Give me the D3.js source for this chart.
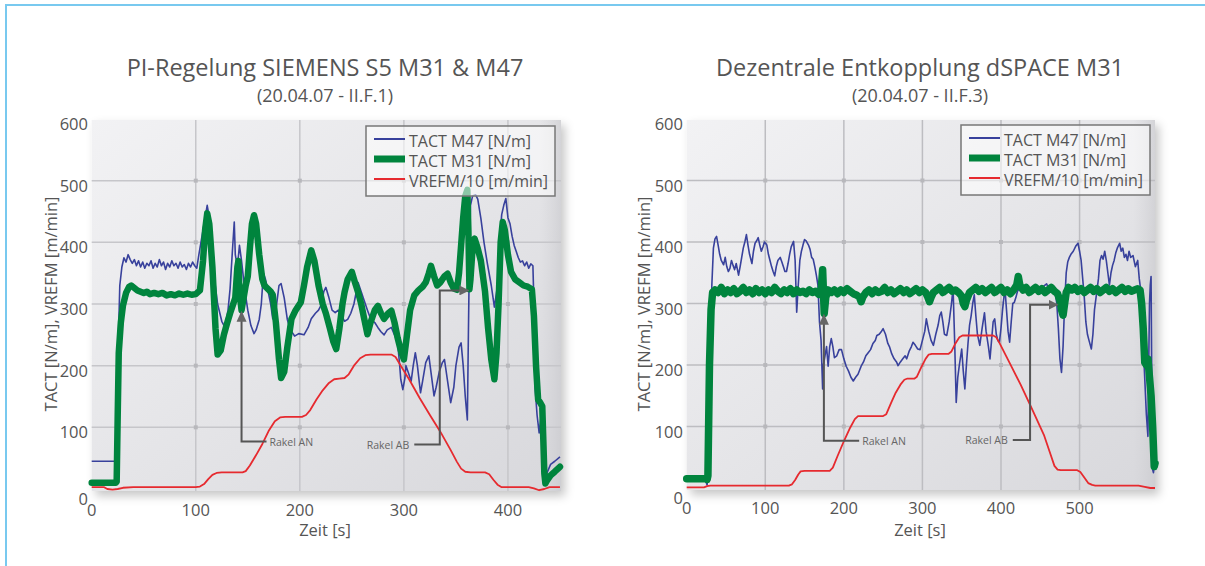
<!DOCTYPE html>
<html>
<head>
<meta charset="utf-8">
<script src="https://cdn.jsdelivr.net/npm/d3@7/dist/d3.min.js"></script>
<style>
  body { margin: 0; background: #fff; }
  text { font-family: "Open Sans", sans-serif; fill: #555; }
</style>
</head>
<body>
<div id="canvas"></div>
<script>

// ---- data (time [s], value) ----
var yTicks = [0, 100, 200, 300, 400, 500, 600];
var leftXTicks = [0, 100, 200, 300, 400];
var rightXTicks = [0, 100, 200, 300, 400, 500];
var legendLabels = ['TACT M47 [N/m]', 'TACT M31 [N/m]', 'VREFM/10 [m/min]'];

var leftM47 = [[0,45],[22,45],[23,44],[24,40],[25,200],[27,330],[29,360],[31,375],[33,368],[35,380],[37,372],[39,366],[41,372],[43,362],[45,370],[47,360],[49,368],[51,358],[53,366],[55,362],[57,370],[59,358],[61,366],[63,360],[65,372],[67,362],[69,368],[71,356],[73,366],[75,360],[77,370],[79,362],[81,366],[83,358],[85,368],[87,360],[89,364],[91,356],[93,366],[95,360],[97,368],[99,362],[101,358],[103,380],[106,410],[109,440],[111,460],[113,440],[115,390],[118,340],[121,300],[125,272],[128,262],[131,290],[133,325],[135,380],[137,433],[138,380],[140,360],[142,395],[144,370],[147,324],[150,290],[153,265],[156,252],[158,258],[161,275],[163,300],[165,350],[167,340],[169,325],[172,300],[174,276],[177,290],[180,330],[182,333],[185,310],[188,275],[191,258],[195,248],[199,252],[204,250],[208,262],[211,276],[215,285],[218,290],[221,300],[223,320],[225,327],[228,310],[231,290],[234,286],[237,290],[240,282],[243,272],[246,275],[249,285],[252,300],[256,335],[259,320],[262,305],[265,290],[268,276],[272,270],[275,262],[278,255],[281,250],[284,258],[288,262],[291,250],[294,237],[296,200],[297,178],[299,161],[301,180],[302,200],[304,190],[307,175],[309,200],[311,221],[313,200],[316,156],[318,175],[321,205],[324,216],[326,190],[329,151],[331,165],[334,190],[337,205],[339,210],[342,175],[345,140],[348,165],[350,200],[353,230],[355,237],[357,200],[359,150],[361,112],[362,250],[363,380],[364,460],[366,475],[369,477],[371,470],[374,439],[377,400],[380,368],[384,330],[387,295],[390,330],[392,400],[394,445],[396,460],[398,471],[400,440],[402,430],[404,410],[406,395],[408,385],[410,375],[412,368],[414,370],[416,362],[418,368],[420,358],[422,365],[424,362],[425,300],[426,167],[428,120],[430,91],[432,120],[433,130],[434,60],[436,20],[438,28],[441,40],[445,45],[450,52]];

var leftM31 = [[0,10],[23,10],[24,12],[25,120],[26,221],[28,270],[30,297],[33,318],[36,328],[38,330],[41,326],[44,322],[47,320],[50,318],[53,320],[56,316],[60,318],[64,316],[68,318],[72,314],[76,316],[80,314],[84,317],[88,315],[92,317],[96,315],[100,316],[104,322],[107,370],[109,420],[111,447],[113,430],[116,360],[119,260],[121,218],[124,225],[127,250],[130,268],[133,285],[136,300],[138,310],[140,360],[141,370],[142,320],[144,290],[146,310],[148,330],[150,345],[152,390],[154,430],[156,444],[158,430],[161,380],[164,340],[166,330],[169,325],[172,320],[174,315],[177,270],[180,210],[182,180],[185,190],[188,230],[192,276],[196,290],[201,303],[204,330],[207,360],[211,387],[214,370],[218,330],[222,300],[225,285],[229,260],[232,240],[235,227],[238,260],[241,300],[243,319],[246,340],[250,352],[253,335],[256,319],[259,300],[262,275],[265,251],[268,270],[272,290],[275,297],[278,285],[281,276],[285,285],[288,289],[291,270],[294,245],[297,225],[300,210],[303,250],[306,290],[310,314],[314,322],[318,328],[321,335],[324,350],[326,362],[329,345],[332,330],[335,335],[339,345],[342,349],[345,335],[348,325],[351,323],[353,350],[355,395],[357,440],[359,475],[361,485],[362,420],[363,324],[364,340],[366,390],[368,406],[371,390],[374,370],[378,320],[381,260],[384,210],[387,178],[389,220],[391,300],[393,400],[395,433],[397,420],[400,380],[403,352],[407,340],[411,335],[415,330],[419,328],[423,324],[425,280],[427,200],[429,145],[431,140],[433,134],[434,80],[435,25],[436,9],[438,15],[441,22],[445,28],[450,36]];

var leftVref = [[0,3],[12,3],[15,0],[20,-1],[25,0],[30,2],[40,3],[100,3],[104,4],[108,8],[112,16],[116,23],[120,26],[125,27],[145,27],[148,29],[152,38],[158,55],[164,73],[170,94],[176,110],[181,116],[186,117],[202,117],[206,120],[210,128],[216,145],[222,160],[228,172],[233,178],[238,179],[243,180],[247,186],[252,200],[258,212],[263,217],[268,218],[288,218],[292,214],[297,200],[305,178],[315,148],[325,120],[335,93],[345,63],[351,44],[355,33],[359,28],[364,27],[378,27],[382,24],[386,15],[390,7],[394,3],[420,3],[425,1],[430,-2],[435,0],[440,3],[450,3]];

var rightM47 = [[0,13],[20,13],[24,12],[26,5],[28,60],[30,200],[32,330],[34,390],[36,405],[38,409],[40,395],[42,380],[44,370],[47,363],[49,375],[51,360],[53,352],[55,357],[57,370],[59,362],[61,355],[63,365],[66,346],[68,360],[70,375],[72,390],[74,400],[76,412],[78,395],[80,380],[83,365],[85,385],[87,398],[89,402],[91,407],[93,395],[95,385],[97,392],[99,400],[102,395],[104,380],[106,370],[108,360],[110,352],[112,345],[114,360],[116,370],[119,375],[121,368],[123,360],[125,352],[127,352],[129,365],[131,380],[133,392],[136,401],[138,370],[140,286],[142,330],[144,370],[146,385],[148,395],[150,404],[152,402],[155,395],[157,388],[159,375],[161,372],[163,360],[165,346],[167,330],[169,270],[171,240],[173,161],[174,200],[176,215],[178,230],[180,198],[182,230],[184,243],[186,230],[188,212],[191,215],[194,225],[197,225],[200,210],[203,198],[206,190],[209,180],[212,174],[215,180],[218,185],[222,198],[225,205],[228,215],[231,220],[234,225],[237,235],[240,240],[242,248],[245,250],[248,255],[250,259],[253,250],[256,235],[258,230],[261,218],[264,210],[267,205],[269,199],[272,205],[275,210],[278,215],[280,210],[283,222],[286,230],[288,237],[291,232],[294,226],[297,225],[300,240],[303,255],[305,275],[308,255],[311,240],[314,232],[317,250],[320,265],[322,280],[324,286],[326,270],[328,250],[331,248],[334,270],[337,300],[339,325],[341,240],[343,139],[345,180],[347,200],[350,226],[352,190],[354,161],[356,200],[358,235],[360,265],[362,280],[364,300],[366,314],[368,280],[370,250],[373,232],[376,260],[379,285],[381,255],[384,230],[386,210],[388,240],[390,270],[392,275],[394,250],[396,240],[398,237],[400,260],[402,290],[405,325],[407,290],[409,255],[411,237],[413,270],[415,300],[417,302],[419,310],[421,320],[424,325],[427,318],[430,320],[432,322],[435,316],[438,325],[441,320],[445,330],[448,322],[451,318],[454,328],[458,332],[461,324],[464,330],[468,325],[471,300],[473,260],[475,210],[477,188],[479,230],[481,300],[483,350],[485,368],[487,375],[489,380],[492,385],[495,393],[498,398],[500,385],[502,370],[504,340],[506,310],[508,270],[510,250],[512,240],[515,226],[517,250],[519,290],[521,310],[524,340],[526,370],[528,378],[530,372],[532,385],[534,370],[536,350],[538,330],[540,350],[542,362],[544,370],[546,382],[548,390],[551,398],[553,385],[555,390],[557,375],[559,380],[561,370],[563,385],[565,375],[568,378],[571,360],[574,370],[576,340],[578,320],[580,260],[583,177],[585,120],[587,84],[588,200],[589,300],[590,330],[591,344],[592,150],[593,30],[594,25],[596,45]];

var rightM31 = [[0,15],[24,15],[26,14],[27,20],[29,200],[31,290],[33,318],[36,322],[40,318],[44,326],[48,316],[52,322],[56,318],[60,324],[64,316],[68,320],[72,326],[76,318],[80,322],[84,316],[88,324],[92,318],[96,322],[100,316],[104,322],[108,318],[112,326],[116,320],[120,316],[124,322],[128,318],[132,324],[136,316],[140,322],[144,318],[148,320],[152,316],[156,322],[160,318],[164,320],[168,315],[171,320],[173,355],[174,320],[175,284],[177,310],[180,322],[184,318],[188,322],[192,316],[196,322],[200,318],[204,324],[208,320],[212,316],[216,314],[220,310],[222,303],[224,310],[228,318],[232,322],[236,316],[240,322],[244,318],[248,320],[252,326],[256,318],[260,322],[264,316],[268,320],[272,324],[276,318],[280,322],[284,316],[288,320],[292,324],[296,318],[300,322],[304,318],[307,310],[309,303],[311,310],[314,318],[318,322],[322,326],[326,318],[330,322],[334,326],[338,320],[342,322],[346,318],[350,312],[352,300],[354,295],[356,305],[360,318],[364,322],[368,326],[372,320],[376,324],[380,318],[384,322],[388,326],[392,318],[396,322],[400,326],[404,318],[408,322],[412,316],[416,322],[420,330],[422,344],[424,330],[428,322],[432,326],[436,318],[440,322],[444,326],[448,320],[452,324],[456,318],[460,322],[464,326],[468,320],[472,316],[475,305],[477,290],[479,281],[481,300],[483,318],[486,326],[490,322],[494,326],[498,320],[502,324],[506,318],[510,322],[514,326],[518,320],[522,324],[526,318],[530,322],[534,326],[538,320],[542,324],[546,318],[550,322],[554,326],[558,320],[562,324],[566,320],[570,322],[574,324],[577,322],[579,300],[581,260],[583,204],[585,200],[587,210],[589,180],[591,150],[593,100],[595,35],[596,40]];

var rightVref = [[0,1],[22,1],[26,3],[30,4],[130,4],[134,6],[138,13],[142,22],[145,27],[150,28],[182,28],[186,33],[192,52],[200,76],[208,98],[214,112],[218,117],[250,117],[254,120],[260,138],[266,155],[272,168],[277,176],[281,178],[290,178],[293,181],[298,195],[304,210],[308,217],[312,218],[333,218],[337,222],[342,235],[347,245],[351,248],[390,248],[394,245],[398,236],[410,206],[425,168],[440,127],[455,85],[463,55],[468,36],[472,30],[476,29],[497,29],[501,26],[506,17],[511,8],[516,5],[520,4],[575,4],[583,2],[590,0],[596,0]];

// annotation anchor points in data units: [t, v]
var leftRakelAN = [[144,286],[144,77],[168,77]];
var leftRakelAB = [[310,72],[334.5,72],[334.5,322],[362,322]];
var rightRakelAN = [[174.6,280],[174.6,77],[219.5,77]];
var rightRakelAB = [[415,78],[437,78],[437,298],[472,298]];

// ---- drawing ----
svg = d3.select('#canvas').append('svg')
  .attr('width', 1205)
  .attr('height', 566);

var defs = svg.append('defs');

var grad = defs.append('linearGradient')
  .attr('id', 'plotbg')
  .attr('x1', 0).attr('y1', 0).attr('x2', 1).attr('y2', 1);
grad.append('stop').attr('offset', '0%').attr('stop-color', '#f2f2f4');
grad.append('stop').attr('offset', '55%').attr('stop-color', '#e4e4e7');
grad.append('stop').attr('offset', '100%').attr('stop-color', '#d8d8dc');

var edge = defs.append('linearGradient')
  .attr('id', 'edgebg')
  .attr('x1', 0).attr('y1', 0).attr('x2', 1).attr('y2', 0);
edge.append('stop').attr('offset', '0%').attr('stop-color', '#d0d0d4').attr('stop-opacity', 0);
edge.append('stop').attr('offset', '100%').attr('stop-color', '#c8c8cc').attr('stop-opacity', 1);

var shadow = defs.append('filter')
  .attr('id', 'shadow')
  .attr('x', '-5%').attr('y', '-5%').attr('width', '115%').attr('height', '115%');
shadow.append('feDropShadow')
  .attr('dx', 4).attr('dy', 5).attr('stdDeviation', 5)
  .attr('flood-color', '#000').attr('flood-opacity', 0.22);

defs.append('marker')
  .attr('id', 'arrow')
  .attr('viewBox', '0 0 10 10')
  .attr('refX', 9).attr('refY', 5)
  .attr('markerWidth', 5).attr('markerHeight', 5)
  .attr('markerUnits', 'strokeWidth')
  .attr('orient', 'auto')
  .append('path')
  .attr('d', 'M0,0 L10,5 L0,10 z')
  .attr('fill', '#666');

// outer frame (light blue)
svg.append('path')
  .attr('d', 'M6 566 V 5 H 1205')
  .attr('fill', 'none')
  .attr('stroke', '#78c9ef')
  .attr('stroke-width', 2);

drawPanel = function(p) {
  var x = d3.scaleLinear().domain(p.xDomain).range(p.xRange);
  var y = d3.scaleLinear().domain([0, 600]).range(p.yRange);
  var g = svg.append('g');

  var x0 = p.xRange[0], x1 = p.xRange[1];
  var top = y(600) + 1, bottom = y(0) + 2;

  // plot background
  g.append('rect')
    .attr('x', x0).attr('y', top)
    .attr('width', x1 - x0).attr('height', bottom - top)
    .attr('fill', 'url(#plotbg)')
    .attr('filter', 'url(#shadow)');
  g.append('rect')
    .attr('x', x1 - 22).attr('y', top)
    .attr('width', 22).attr('height', bottom - top)
    .attr('fill', 'url(#edgebg)')
    .attr('opacity', 0.6);

  // grid
  var gx = p.xTicks.filter(function(d) { return d > 0; });
  var gy = yTicks.filter(function(d) { return d > 0 && d < 600; });
  g.selectAll('.vgrid').data(gx).enter().append('line')
    .attr('x1', function(d) { return x(d); }).attr('x2', function(d) { return x(d); })
    .attr('y1', top).attr('y2', bottom)
    .attr('stroke', p.gridColor).attr('stroke-width', 1.5);
  g.selectAll('.hgrid').data(gy).enter().append('line')
    .attr('x1', x0).attr('x2', x1)
    .attr('y1', function(d) { return y(d); }).attr('y2', function(d) { return y(d); })
    .attr('stroke', p.gridColor).attr('stroke-width', 1.5);
  gx.forEach(function(a) {
    gy.forEach(function(b) {
      g.append('rect')
        .attr('x', x(a) - 2).attr('y', y(b) - 2)
        .attr('width', 4).attr('height', 4)
        .attr('fill', '#b8b8bc');
    });
  });

  // series
  var line = d3.line()
    .x(function(d) { return x(d[0]); })
    .y(function(d) { return y(d[1]); });

  g.append('path').datum(p.m47).attr('d', line)
    .attr('fill', 'none').attr('stroke', '#38419c').attr('stroke-width', 1.6)
    .attr('stroke-linejoin', 'round');
  g.append('path').datum(p.m31).attr('d', line)
    .attr('fill', 'none').attr('stroke', '#00843d').attr('stroke-width', p.greenWidth)
    .attr('stroke-linejoin', 'round').attr('stroke-linecap', 'round');
  g.append('path').datum(p.vref).attr('d', line)
    .attr('fill', 'none').attr('stroke', '#e62a2f').attr('stroke-width', 1.8)
    .attr('stroke-linejoin', 'round');

  // annotations
  g.append('path').datum(p.rakelAN).attr('d', line)
    .attr('fill', 'none').attr('stroke', '#555').attr('stroke-width', 2);
  g.append('path').datum(p.rakelAB).attr('d', line)
    .attr('fill', 'none').attr('stroke', '#555').attr('stroke-width', 2)
    .attr('marker-end', 'url(#arrow)');
  // upward arrow head for "Rakel AN"
  var ax = x(p.rakelAN[0][0]), ay = y(p.rakelAN[0][1]);
  g.append('path')
    .attr('d', 'M' + ax + ' ' + (ay - 2) + ' L' + (ax - 5) + ' ' + (ay + 9) + ' L' + (ax + 5) + ' ' + (ay + 9) + ' z')
    .attr('fill', '#666');
  g.append('text')
    .attr('x', x(p.rakelAN[2][0]) + 3)
    .attr('y', y(p.rakelAN[2][1]) + 4)
    .text('Rakel AN')
    .style('font-size', '10.5px').style('fill', '#666');
  g.append('text')
    .attr('x', x(p.rakelAB[0][0]) - 5)
    .attr('y', y(p.rakelAB[0][1]) + 4)
    .attr('text-anchor', 'end')
    .text('Rakel AB')
    .style('font-size', '10.5px').style('fill', '#666');

  // tick labels
  g.selectAll('.ylab').data(yTicks).enter().append('text')
    .attr('x', p.yLabelX)
    .attr('y', function(d) { return y(d) + (d == 0 ? 9 : 4.5); })
    .attr('text-anchor', 'end')
    .attr('dominant-baseline', 'central')
    .text(function(d) { return d; })
    .style('font-size', '16.5px');
  g.selectAll('.xlab').data(p.xTicks).enter().append('text')
    .attr('x', function(d) { return x(d); })
    .attr('y', p.xLabelY)
    .attr('text-anchor', 'middle')
    .attr('dominant-baseline', 'central')
    .text(function(d) { return d; })
    .style('font-size', '16.5px');

  // axis titles
  g.append('text')
    .attr('transform', 'translate(' + p.yTitleX + ',304) rotate(-90)')
    .attr('text-anchor', 'middle')
    .attr('dominant-baseline', 'central')
    .text('TACT [N/m], VREFM [m/min]')
    .style('font-size', '16.5px');
  g.append('text')
    .attr('x', p.center).attr('y', 529)
    .attr('text-anchor', 'middle')
    .attr('dominant-baseline', 'central')
    .text('Zeit [s]')
    .style('font-size', '16.5px');

  // titles
  g.append('text')
    .attr('x', p.center).attr('y', 76)
    .attr('text-anchor', 'middle')
    .text(p.title)
    .style('font-size', '23.5px');
  g.append('text')
    .attr('x', p.center).attr('y', 102)
    .attr('text-anchor', 'middle')
    .text(p.subtitle)
    .style('font-size', '18px');

  // legend
  var lg = g.append('g').attr('transform', 'translate(' + p.legend[0] + ',' + p.legend[1] + ')');
  lg.append('rect')
    .attr('width', 189).attr('height', 70)
    .attr('fill', '#fff').attr('fill-opacity', 0.55)
    .attr('stroke', '#777').attr('stroke-width', 1.5);
  var lcol = ['#38419c', '#00843d', '#e62a2f'];
  var lw = [2, 7, 2];
  legendLabels.forEach(function(d, i) {
    var ly = 13 + i * 20;
    lg.append('line')
      .attr('x1', 8).attr('x2', 39)
      .attr('y1', ly).attr('y2', ly)
      .attr('stroke', lcol[i]).attr('stroke-width', lw[i]);
    lg.append('text')
      .attr('x', 43).attr('y', ly + 2)
      .attr('dominant-baseline', 'central')
      .text(d)
      .style('font-size', '16px');
  });
};

drawPanel({
  xDomain: [0, 451], xRange: [91.7, 561], yRange: [489, 119],
  xTicks: leftXTicks, gridColor: '#c6c6ca', greenWidth: 6.5,
  m47: leftM47, m31: leftM31, vref: leftVref,
  rakelAN: leftRakelAN, rakelAB: leftRakelAB,
  yLabelX: 88, xLabelY: 509, yTitleX: 50, center: 325,
  title: 'PI-Regelung SIEMENS S5 M31 & M47',
  subtitle: '(20.04.07 - II.F.1)',
  legend: [366, 126]
});

drawPanel({
  xDomain: [0, 596], xRange: [686.7, 1155], yRange: [488, 119],
  xTicks: rightXTicks, gridColor: '#bdbdc1', greenWidth: 7.5,
  m47: rightM47, m31: rightM31, vref: rightVref,
  rakelAN: rightRakelAN, rakelAB: rightRakelAB,
  yLabelX: 683, xLabelY: 507, yTitleX: 643, center: 920,
  title: 'Dezentrale Entkopplung dSPACE M31',
  subtitle: '(20.04.07 - II.F.3)',
  legend: [961, 125]
});

</script>
</body>
</html>
